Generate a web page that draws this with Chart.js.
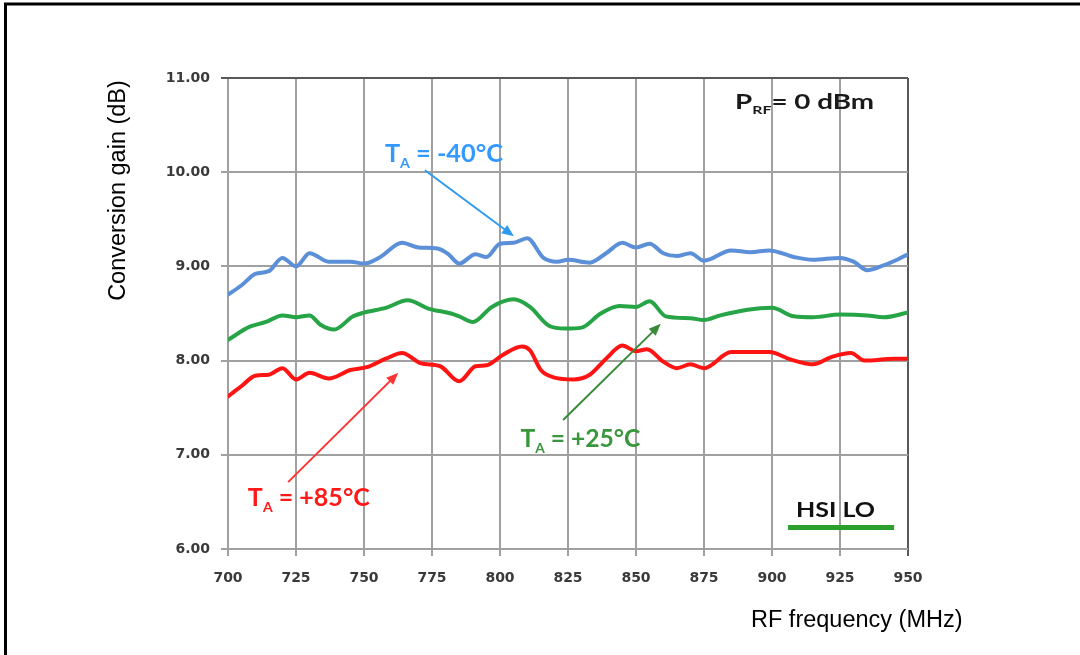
<!DOCTYPE html>
<html>
<head>
<meta charset="utf-8">
<script src="https://cdn.jsdelivr.net/npm/chart.js@4"></script>
<style>
  html, body { margin:0; padding:0; background:#fff; }
  #wrap { position:relative; width:1080px; height:655px; }
  canvas { display:block; }
</style>
</head>
<body>
<div id="wrap"><canvas id="c" width="1080" height="655"></canvas></div>
<script>
// ---- Data ----
const xTicks = [700, 725, 750, 775, 800, 825, 850, 875, 900, 925, 950];
const yTicks = [6, 7, 8, 9, 10, 11];

const freqM40 = [700,705,710,715,720,725,730,737,745,750,756,764,770,777,781,785,791,795,800,805,810,816,821,825,833,839,845,850,855,860,865,870,875,885,892,899,908,915,925,930,935,940,946,950];
const gainM40 = [8.70,8.80,8.92,8.95,9.09,9.00,9.14,9.05,9.05,9.03,9.10,9.25,9.20,9.19,9.13,9.03,9.13,9.10,9.24,9.25,9.30,9.09,9.05,9.07,9.04,9.14,9.25,9.20,9.24,9.14,9.11,9.14,9.06,9.17,9.15,9.17,9.10,9.07,9.09,9.05,8.96,9.00,9.07,9.13];

const freqP25 = [700,708,714,720,725,730,734,739,746,750,758,766,774,782,785,790,797,805,811,818,824,830,837,844,850,855,861,870,875,881,891,900,908,915,925,935,941,950];
const gainP25 = [8.22,8.36,8.41,8.48,8.46,8.48,8.38,8.33,8.47,8.51,8.56,8.64,8.55,8.50,8.47,8.41,8.57,8.65,8.57,8.37,8.34,8.35,8.50,8.58,8.57,8.63,8.47,8.45,8.43,8.48,8.54,8.56,8.47,8.46,8.49,8.48,8.46,8.51];

const freqP85 = [700,705,710,715,720,725,730,737,745,751,758,764,771,778,785,791,795,801,808,811,815,820,827,833,839,845,850,854,860,865,870,875,885,899,907,915,922,929,934,945,950];
const gainP85 = [7.62,7.73,7.84,7.85,7.92,7.80,7.87,7.81,7.90,7.93,8.02,8.08,7.97,7.94,7.78,7.94,7.95,8.06,8.15,8.11,7.90,7.82,7.80,7.85,8.02,8.16,8.10,8.12,7.99,7.92,7.96,7.92,8.09,8.09,8.01,7.96,8.04,8.08,8.00,8.02,8.02];

const seriesNames = ['TA = -40°C', 'TA = +25°C', 'TA = +85°C'];

function pts(fx, gy) { return fx.map((f, i) => ({ x: f, y: gy[i] })); }

// ---- Annotations (in data units) ----
const labels = [
  { main:'T', sub:'A', rest:' = -40°C', x:757.7, y:10.11, size:25, width:118, color:'#3399ff' },
  { main:'T', sub:'A', rest:' = +25°C', x:807.5, y:7.08,  size:25, width:120, color:'#3a963a' },
  { main:'T', sub:'A', rest:' = +85°C', x:707.3, y:6.455, size:25, width:122, color:'#ff1a1a' },
  { main:'P', sub:'RF', rest:'= 0 dBm', x:886.4, y:10.67, size:21, width:139, color:'#1a1a1a' },
  { main:'HSI LO', sub:'', rest:'', x:908.8, y:6.337, size:21.5, width:79, color:'#111111' }
];
const arrows = [
  { x0:772.4, y0:10.02, x1:805.1, y1:9.32, color:'#2f9bf0' },
  { x0:823.2, y0:7.37,  x1:859.1, y1:8.39, color:'#3a8a3a' },
  { x0:722.1, y0:6.71,  x1:762.6, y1:7.87, color:'#ff3333' }
];
const legendLine = { x0:905.9, x1:944.9, y:6.229, color:'#2ca02c' };

const gridGray = '#a0a0a0';
const FONT = 'Lato, "Open Sans", sans-serif';

const decor = {
  id: 'decor',
  beforeDraw(chart) {
    const ctx = chart.ctx;
    ctx.save();
    ctx.fillStyle = '#fff';
    ctx.fillRect(0, 0, chart.width, chart.height);
    ctx.strokeStyle = '#000';
    ctx.lineWidth = 3;
    ctx.beginPath();
    ctx.moveTo(chart.width + 5, 4);
    ctx.lineTo(5.5, 4);
    ctx.lineTo(5.5, chart.height + 5);
    ctx.stroke();
    ctx.restore();
  },
  afterDraw(chart) {
    const ctx = chart.ctx;
    const xs = chart.scales.x, ys = chart.scales.y;
    const area = chart.chartArea;
    ctx.save();
    // axis titles
    ctx.fillStyle = '#000';
    ctx.font = '23.5px "Liberation Sans", Arial, sans-serif';
    ctx.textBaseline = 'alphabetic';
    ctx.textAlign = 'left';
    ctx.fillText('RF frequency (MHz)', area.right - 157, 627);
    ctx.save();
    ctx.translate(125, (area.top + area.bottom) / 2 - 123);
    ctx.rotate(-Math.PI / 2);
    ctx.textAlign = 'center';
    ctx.fillText('Conversion gain (dB)', 0, 0);
    ctx.restore();

    // arrows
    arrows.forEach(a => {
      const px0 = xs.getPixelForValue(a.x0), py0 = ys.getPixelForValue(a.y0);
      const px1 = xs.getPixelForValue(a.x1), py1 = ys.getPixelForValue(a.y1);
      const ang = Math.atan2(py1 - py0, px1 - px0);
      const hl = 12, hw = 5;
      ctx.strokeStyle = a.color;
      ctx.fillStyle = a.color;
      ctx.lineWidth = 2;
      ctx.beginPath();
      ctx.moveTo(px0, py0);
      ctx.lineTo(px1 - Math.cos(ang) * hl * 0.8, py1 - Math.sin(ang) * hl * 0.8);
      ctx.stroke();
      ctx.beginPath();
      ctx.moveTo(px1, py1);
      ctx.lineTo(px1 - Math.cos(ang) * hl - Math.sin(ang) * hw, py1 - Math.sin(ang) * hl + Math.cos(ang) * hw);
      ctx.lineTo(px1 - Math.cos(ang) * hl + Math.sin(ang) * hw, py1 - Math.sin(ang) * hl - Math.cos(ang) * hw);
      ctx.closePath();
      ctx.fill();
    });

    // labels with subscripts, fitted to the reference width
    labels.forEach(l => {
      const px = xs.getPixelForValue(l.x), py = ys.getPixelForValue(l.y);
      const big = 'bold ' + l.size + 'px ' + FONT;
      const small = 'bold ' + Math.round(l.size * 0.56) + 'px ' + FONT;
      ctx.font = big;
      let total = ctx.measureText(l.main).width + ctx.measureText(l.rest).width;
      ctx.font = small;
      total += l.sub ? ctx.measureText(l.sub).width : 0;
      const sx = l.width / total;
      ctx.save();
      ctx.translate(px, py);
      ctx.scale(sx, 1);
      ctx.fillStyle = l.color;
      ctx.textAlign = 'left';
      ctx.textBaseline = 'alphabetic';
      ctx.font = big;
      ctx.fillText(l.main, 0, 0);
      let w = ctx.measureText(l.main).width;
      if (l.sub) {
        ctx.font = small;
        ctx.fillText(l.sub, w, l.size * 0.24);
        w += ctx.measureText(l.sub).width;
        ctx.font = big;
      }
      if (l.rest) ctx.fillText(l.rest, w, 0);
      ctx.restore();
    });

    // HSI LO underline
    ctx.strokeStyle = legendLine.color;
    ctx.lineWidth = 5;
    ctx.beginPath();
    const ly = ys.getPixelForValue(legendLine.y);
    ctx.moveTo(xs.getPixelForValue(legendLine.x0), ly);
    ctx.lineTo(xs.getPixelForValue(legendLine.x1), ly);
    ctx.stroke();
    ctx.restore();
  }
};

const common = { borderWidth: 4, pointRadius: 0, fill: false, cubicInterpolationMode: 'monotone', borderCapStyle: 'round', borderJoinStyle: 'round' };

new Chart(document.getElementById('c'), {
  type: 'line',
  data: {
    datasets: [
      Object.assign({ label: seriesNames[0], data: pts(freqM40, gainM40), borderColor: '#5b8fd8' }, common),
      Object.assign({ label: seriesNames[1], data: pts(freqP25, gainP25), borderColor: '#27a445' }, common),
      Object.assign({ label: seriesNames[2], data: pts(freqP85, gainP85), borderColor: '#ff1414' }, common)
    ]
  },
  options: {
    responsive: false,
    animation: false,
    devicePixelRatio: 1,
    layout: { padding: { left: 0, right: 172, top: 78, bottom: 0 } },
    plugins: { legend: { display: false }, tooltip: { enabled: false }, title: { display: false } },
    scales: {
      x: {
        type: 'linear',
        min: 700, max: 950,
        afterBuildTicks(s) { s.ticks = xTicks.map(v => ({ value: v })); },
        afterFit(s) { s.height = 106; },
        border: { display: false },
        grid: {
          color: ctx => (ctx.tick && ctx.tick.value === 950) ? '#595959' : gridGray,
          lineWidth: 2,
          tickLength: 7,
          drawTicks: true
        },
        ticks: {
          padding: 14,
          maxRotation: 0,
          color: '#3a3a3a',
          font: { family: '"DejaVu Sans"', weight: 'bold', size: 14 },
          callback: v => String(v)
        }
      },
      y: {
        min: 6, max: 11,
        afterBuildTicks(s) { s.ticks = yTicks.map(v => ({ value: v })); },
        afterFit(s) { s.width = 228; },
        border: { display: false },
        grid: {
          color: ctx => (ctx.tick && ctx.tick.value === 11) ? '#595959' : gridGray,
          lineWidth: 2,
          tickLength: 7
        },
        ticks: {
          padding: 11,
          color: '#3a3a3a',
          font: { family: '"DejaVu Sans"', weight: 'bold', size: 14 },
          callback: v => Number(v).toFixed(2)
        }
      }
    }
  },
  plugins: [decor]
});
</script>
</body>
</html>
